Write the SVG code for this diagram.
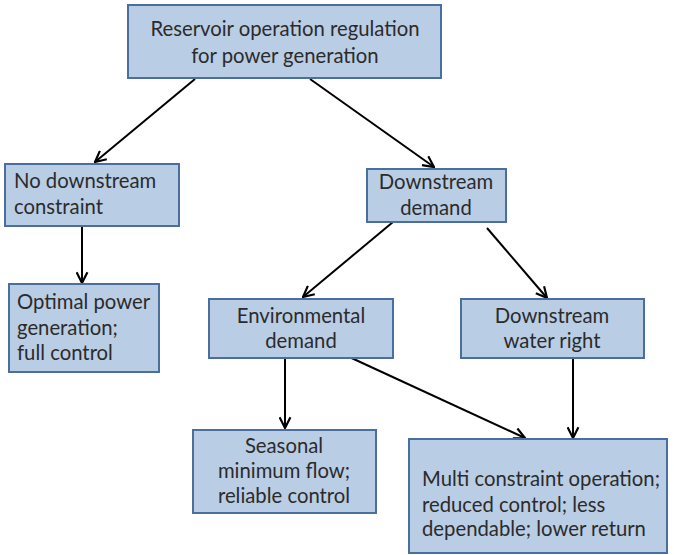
<svg xmlns="http://www.w3.org/2000/svg" width="674" height="555" viewBox="0 0 674 555">
  <defs>
    <marker id="arrow" viewBox="0 0 12 12" refX="11" refY="6" markerWidth="13" markerHeight="13" markerUnits="userSpaceOnUse" orient="auto">
      <path d="M1,1 L11,6 L1,11" fill="none" stroke="#000" stroke-width="2"/>
    </marker>
    <style>
      .box { fill: #B9CDE5; stroke: #4A6F9E; stroke-width: 2; }
      .t { font-family: Lato, "Liberation Sans", sans-serif; font-size: 20.3px; fill: #2B2B2B; }
      .c { text-anchor: middle; }
      .edge { stroke: #000; stroke-width: 2; fill: none; marker-end: url(#arrow); }
    </style>
  </defs>
  <rect width="674" height="555" fill="#fff"/>

  <g id="connectors">
    <line class="edge" x1="195" y1="79" x2="95" y2="162"/>
    <line class="edge" x1="310" y1="79" x2="434" y2="167"/>
    <line class="edge" x1="82" y1="226" x2="82" y2="283"/>
    <line class="edge" x1="393" y1="222" x2="303" y2="297"/>
    <line class="edge" x1="487" y1="228" x2="547" y2="298"/>
    <line class="edge" x1="285" y1="358" x2="285" y2="428"/>
    <line class="edge" x1="345" y1="355" x2="525" y2="438"/>
    <line class="edge" x1="573" y1="358" x2="573" y2="438"/>
  </g>

  <g id="root">
    <rect class="box" x="128" y="5" width="313" height="73"/>
    <text class="t c" x="285" y="36">Reservoir operation regulation</text>
    <text class="t c" x="285" y="63">for power generation</text>
  </g>

  <g id="no-downstream">
    <rect class="box" x="5" y="164" width="174" height="62"/>
    <text class="t" x="14" y="188">No downstream</text>
    <text class="t" x="14" y="214">constraint</text>
  </g>

  <g id="optimal">
    <rect class="box" x="9" y="284" width="150" height="88"/>
    <text class="t" x="17" y="309">Optimal power</text>
    <text class="t" x="17" y="335">generation;</text>
    <text class="t" x="17" y="360">full control</text>
  </g>

  <g id="downstream-demand">
    <rect class="box" x="367" y="169" width="139" height="53"/>
    <text class="t c" x="436" y="189">Downstream</text>
    <text class="t c" x="436" y="215">demand</text>
  </g>

  <g id="environmental">
    <rect class="box" x="209" y="299" width="184" height="59"/>
    <text class="t c" x="301" y="323">Environmental</text>
    <text class="t c" x="301" y="348">demand</text>
  </g>

  <g id="water-right">
    <rect class="box" x="461" y="299" width="183" height="59"/>
    <text class="t c" x="552" y="323">Downstream</text>
    <text class="t c" x="552" y="348">water right</text>
  </g>

  <g id="seasonal">
    <rect class="box" x="193" y="430" width="183" height="83"/>
    <text class="t c" x="284" y="453">Seasonal</text>
    <text class="t c" x="284" y="478">minimum flow;</text>
    <text class="t c" x="284" y="503">reliable control</text>
  </g>

  <g id="multi">
    <rect class="box" x="409" y="439" width="258" height="114"/>
    <text class="t" x="422" y="486">Multi constraint operation;</text>
    <text class="t" x="422" y="512">reduced control; less</text>
    <text class="t" x="422" y="536">dependable; lower return</text>
  </g>
</svg>
